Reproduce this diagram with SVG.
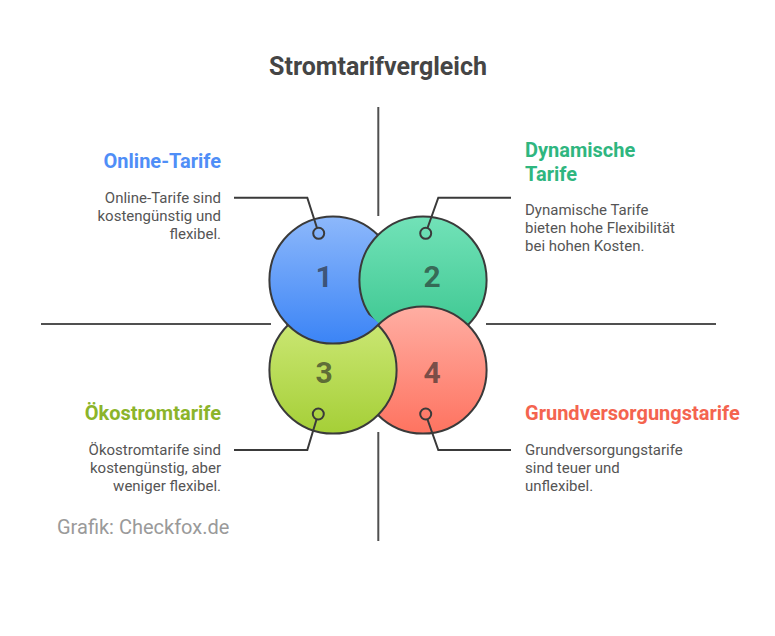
<svg xmlns="http://www.w3.org/2000/svg" width="775" height="636" viewBox="0 0 775 636">
<defs>
<linearGradient id="g1" x1="0" y1="0" x2="0" y2="1"><stop offset="0" stop-color="#8db8fb"/><stop offset="1" stop-color="#3b84f6"/></linearGradient>
<linearGradient id="g2" x1="0" y1="0" x2="0" y2="1"><stop offset="0" stop-color="#72e2b8"/><stop offset="1" stop-color="#39c58e"/></linearGradient>
<linearGradient id="g3" x1="0" y1="0" x2="0" y2="1"><stop offset="0" stop-color="#d0ea7c"/><stop offset="1" stop-color="#a5cf37"/></linearGradient>
<linearGradient id="g4" x1="0" y1="0" x2="0" y2="1"><stop offset="0" stop-color="#ffaea3"/><stop offset="1" stop-color="#fe7360"/></linearGradient>
<clipPath id="clip3"><circle cx="333" cy="370" r="65.5"/></clipPath>
<style>
.big{stroke:#3a3a3a;stroke-width:2}
.num{font-family:Roboto,"Liberation Sans",sans-serif;font-weight:bold;font-size:30px;fill:#222;fill-opacity:0.62;text-anchor:middle}
.dot{fill:none;stroke:#3a3a3a;stroke-width:2}
.con{fill:none;stroke:#3a3a3a;stroke-width:2}
.axis{stroke:#505050;stroke-width:2}
.title{font-family:Roboto,"Liberation Sans",sans-serif;font-weight:bold;font-size:25px;fill:#454545;text-anchor:middle}
.head{font-family:Roboto,"Liberation Sans",sans-serif;font-weight:bold;font-size:20px}
.body{font-family:Roboto,"Liberation Sans",sans-serif;font-size:15px;fill:#555}
.r{text-anchor:end}
</style>
</defs>
<rect width="775" height="636" fill="#ffffff"/>
<text class="title" x="378" y="75">Stromtarifvergleich</text>
<g id="axes">
<line class="axis" x1="378.3" y1="107" x2="378.3" y2="216"/>
<line class="axis" x1="378.3" y1="432" x2="378.3" y2="541"/>
<line class="axis" x1="41" y1="324" x2="271" y2="324"/>
<line class="axis" x1="486" y1="324" x2="716" y2="324"/>
</g>
<g id="circles">
<circle class="big" cx="333" cy="280" r="63.6" fill="url(#g1)"/>
<circle class="big" cx="423" cy="280" r="63.6" fill="url(#g2)"/>
<circle class="big" cx="423" cy="370" r="63.6" fill="url(#g4)"/>
<circle class="big" cx="333" cy="370" r="63.6" fill="url(#g3)"/>
<circle class="big" cx="333" cy="280" r="63.6" fill="url(#g1)" clip-path="url(#clip3)"/>
</g>
<g id="node1">
<text class="num" x="324" y="287">1</text>
<circle class="dot" cx="318.7" cy="233.3" r="5.5"/>
<text class="head r" x="221" y="168" fill="#4f8ef7">Online-Tarife</text>
<text class="body r" x="221" y="203">Online-Tarife sind</text>
<text class="body r" x="221" y="221">kostengünstig und</text>
<text class="body r" x="221" y="239">flexibel.</text>
</g>
<g id="node2">
<text class="num" x="432" y="287">2</text>
<circle class="dot" cx="425.7" cy="233.3" r="5.5"/>
<text class="head" x="525" y="157" fill="#2fb67f">Dynamische</text>
<text class="head" x="525" y="181" fill="#2fb67f">Tarife</text>
<text class="body" x="525" y="215">Dynamische Tarife</text>
<text class="body" x="525" y="233">bieten hohe Flexibilität</text>
<text class="body" x="525" y="251">bei hohen Kosten.</text>
</g>
<g id="node3">
<text class="num" x="324" y="383">3</text>
<circle class="dot" cx="318.3" cy="414" r="5.5"/>
<text class="head r" x="221" y="420" fill="#8cb42a">Ökostromtarife</text>
<text class="body r" x="221" y="455">Ökostromtarife sind</text>
<text class="body r" x="221" y="473">kostengünstig, aber</text>
<text class="body r" x="221" y="491">weniger flexibel.</text>
</g>
<g id="node4">
<text class="num" x="432" y="383">4</text>
<circle class="dot" cx="425.7" cy="414" r="5.5"/>
<text class="head" x="525" y="420" fill="#f4644f">Grundversorgungstarife</text>
<text class="body" x="525" y="455">Grundversorgungstarife</text>
<text class="body" x="525" y="473">sind teuer und</text>
<text class="body" x="525" y="491">unflexibel.</text>
</g>
<g id="connectors">
<polyline class="con" points="234,197.7 307.3,197.7 317,228"/>
<polyline class="con" points="511,197.7 438.3,197.7 427.5,228"/>
<polyline class="con" points="234,450 307.3,450 316.5,419.5"/>
<polyline class="con" points="511,450 438.3,450 427.5,419.5"/>
</g>
<text x="57" y="534" font-family="Roboto, 'Liberation Sans', sans-serif" font-size="20" fill="#9a9a9a">Grafik: Checkfox.de</text>
</svg>
